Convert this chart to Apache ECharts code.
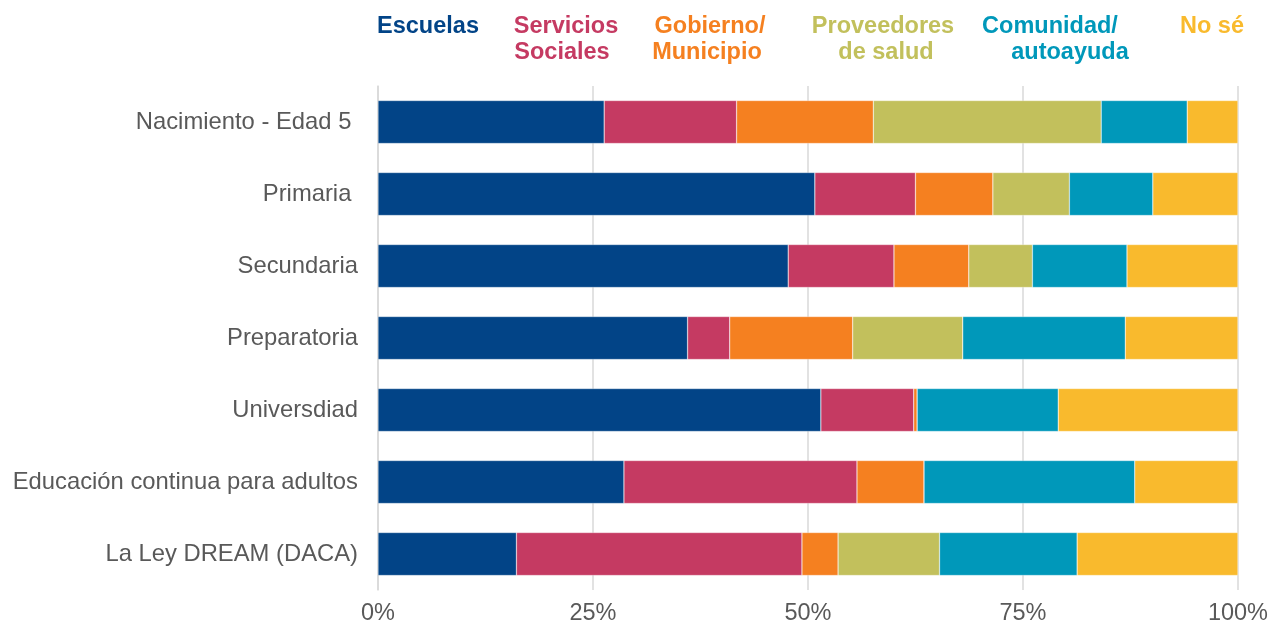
<!DOCTYPE html>
<html>
<head>
<meta charset="utf-8">
<script src="https://cdn.jsdelivr.net/npm/echarts@6/dist/echarts.min.js"></script>
<style>html,body{margin:0;padding:0;background:#fff}#c{width:1271px;height:626px}</style>
</head>
<body>
<div id="c"></div>
<script>
const categories = ["Nacimiento - Edad 5 ", "Primaria ", "Secundaria", "Preparatoria", "Universdiad", "Educación continua para adultos", "La Ley DREAM (DACA)"];
const seriesNames = ["Escuelas", "Servicios\nSociales", "Gobierno/\nMunicipio", "Proveedores\nde salud", "Comunidad/\nautoayuda", "No sé"];
const escuelas    = [26.3, 50.8, 47.7, 36.0, 51.5, 28.6, 16.1];
const servicios   = [15.4, 11.7, 12.3,  4.9, 10.8, 27.1, 33.2];
const gobierno    = [15.9,  9.0,  8.7, 14.3,  0.4,  7.8,  4.2];
const proveedores = [26.5,  8.9,  7.4, 12.8,  0.0,  0.0, 11.8];
const comunidad   = [10.0,  9.7, 11.0, 18.9, 16.4, 24.5, 16.0];
const nose        = [ 5.9,  9.9, 12.9, 13.1, 20.9, 12.0, 18.7];
const xTicks = [0, 25, 50, 75, 100];

const values = [escuelas, servicios, gobierno, proveedores, comunidad, nose];
const colors = ["#024487", "#C53A62", "#F58020", "#C2C05C", "#0098BA", "#F9BA2D"];
// legend line centres [line1, line2]
const legendX = [[428, 428], [566, 562], [710, 707], [883, 886], [1050, 1070], [1212, 1212]];

const chart = echarts.init(document.getElementById('c'), null, {renderer: 'canvas'});
const font = "'Liberation Sans', Arial, sans-serif";

const graphics = [];
seriesNames.forEach((n, i) => {
  n.split('\n').forEach((line, j) => {
    graphics.push({
      type: 'text', x: legendX[i][j], y: 27 + j * 26,
      style: {text: line, fill: colors[i], font: "bold 23.5px " + font, textAlign: 'center', textVerticalAlign: 'middle'}
    });
  });
});

chart.setOption({
  animation: false,
  grid: {left: 378, right: 33, top: 86, bottom: 36, containLabel: false},
  xAxis: {
    type: 'value', min: 0, max: 100, interval: 25,
    axisLine: {show: false}, axisTick: {show: false},
    splitLine: {lineStyle: {color: '#d9d9d9', width: 1.5}},
    axisLabel: {formatter: v => xTicks.includes(v) ? v + '%' : '', color: '#595959', fontSize: 23.5, fontFamily: font, margin: 12}
  },
  yAxis: {
    type: 'category', data: categories, inverse: true,
    axisLine: {show: true, lineStyle: {color: '#d9d9d9', width: 1.5}},
    axisTick: {show: false},
    axisLabel: {color: '#595959', fontSize: 23.8, fontFamily: font, margin: 20}
  },
  graphic: graphics,
  series: values.map((d, i) => ({
    type: 'bar', name: seriesNames[i], stack: 'total', data: d, barWidth: 43,
    itemStyle: {color: colors[i], borderColor: 'rgba(255,255,255,0.6)', borderWidth: 0.5}
  }))
});
</script>
</body>
</html>
